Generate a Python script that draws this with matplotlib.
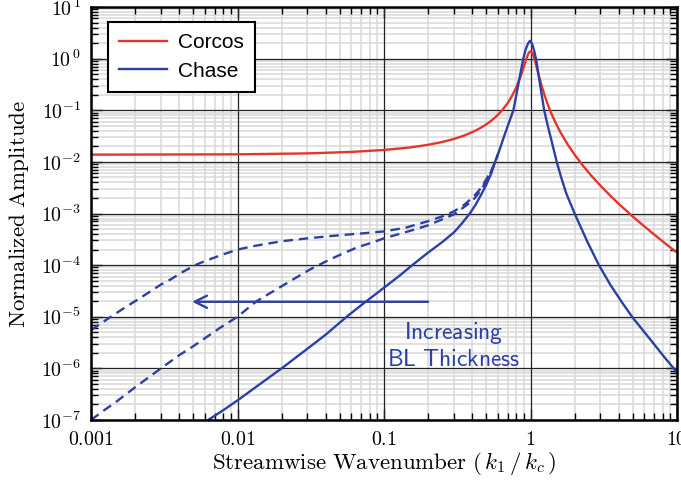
import numpy as np
import matplotlib
matplotlib.use("Agg")
import matplotlib.pyplot as plt
from matplotlib.ticker import FixedLocator, LogLocator, NullFormatter

plt.rcParams["mathtext.fontset"] = "cm"
plt.rcParams["font.family"] = ["Liberation Sans", "DejaVu Sans"]

# Corcos model spectrum
k_corcos = [0.001, 0.01, 0.03, 0.06, 0.1, 0.15, 0.2, 0.25, 0.3, 0.35, 0.4,
            0.45, 0.5, 0.55, 0.6, 0.65, 0.7, 0.75, 0.8, 0.85, 0.875, 0.9,
            0.925, 0.95, 0.975, 1.0, 1.025, 1.05, 1.075, 1.1, 1.125, 1.15,
            1.2, 1.25, 1.3, 1.35, 1.4, 1.5, 1.6, 1.8, 2.0, 2.3, 2.6, 3.0,
            3.5, 4.0, 5.0, 6.0, 7.0, 8.5, 10.0]
amp_corcos = [0.0138, 0.0140, 0.0146, 0.0156, 0.0170, 0.0190, 0.0214, 0.0243,
              0.0278, 0.0321, 0.0376, 0.0445, 0.0535, 0.0654, 0.0818, 0.105,
              0.139, 0.192, 0.278, 0.428, 0.542, 0.695, 0.890, 1.11, 1.31,
              1.39, 1.31, 1.11, 0.890, 0.695, 0.542, 0.428, 0.278, 0.192,
              0.139, 0.105, 0.0818, 0.0535, 0.0376, 0.0214, 0.0138, 8.2e-3,
              5.4e-3, 3.47e-3, 2.22e-3, 1.54e-3, 8.7e-4, 5.6e-4, 3.9e-4,
              2.5e-4, 1.75e-4]

# Chase model, thinnest boundary layer (solid)
k_chase = [0.005, 0.0063, 0.008, 0.01, 0.014, 0.02, 0.03, 0.04, 0.0556, 0.07,
           0.09, 0.11, 0.13, 0.156, 0.2, 0.25, 0.3, 0.34, 0.385, 0.42, 0.46,
           0.5, 0.54, 0.573, 0.61, 0.65, 0.7, 0.764, 0.8, 0.85, 0.893, 0.93,
           0.965, 0.99, 1.0, 1.03, 1.06, 1.09, 1.15, 1.24, 1.31, 1.4, 1.51,
           1.62, 1.75, 2.0, 2.45, 2.93, 3.5, 4.2, 5.0, 6.0, 7.0, 8.2, 9.5, 10.0]
amp_chase = [6.2e-8, 1.0e-7, 1.55e-7, 2.4e-7, 4.8e-7, 1.0e-6, 2.4e-6, 4.5e-6,
             1.0e-5, 1.68e-5, 2.9e-5, 4.5e-5, 6.5e-5, 1.0e-4, 1.75e-4, 2.8e-4,
             4.3e-4, 6.4e-4, 1.0e-3, 1.45e-3, 2.3e-3, 3.65e-3, 6.0e-3, 1.0e-2,
             1.6e-2, 2.75e-2, 5.0e-2, 0.1, 0.197, 0.49, 1.0, 1.55, 2.0, 2.2,
             2.2, 1.87, 1.4, 1.0, 0.38, 0.1, 0.051, 0.024, 0.01, 5.0e-3,
             2.5e-3, 1.0e-3, 2.8e-4, 1.0e-4, 4.2e-5, 1.92e-5, 9.5e-6, 5.0e-6,
             2.9e-6, 1.65e-6, 1.0e-6, 8.3e-7]

# Chase model, thicker boundary layers (dashed)
k_dash1 = [0.001, 0.0012, 0.0014, 0.0017, 0.002, 0.0025, 0.003, 0.0035,
           0.0042, 0.00514, 0.006, 0.008, 0.01, 0.013, 0.02, 0.03, 0.05, 0.07,
           0.1, 0.14, 0.2, 0.25, 0.3, 0.35, 0.4, 0.45, 0.5, 0.55, 0.6]
amp_dash1 = [5.5e-6, 7.8e-6, 1.05e-5, 1.5e-5, 2.0e-5, 3.0e-5, 4.2e-5, 5.3e-5,
             7.3e-5, 1.0e-4, 1.2e-4, 1.62e-4, 2.0e-4, 2.35e-4, 2.9e-4, 3.3e-4,
             3.8e-4, 4.1e-4, 4.5e-4, 5.3e-4, 7.1e-4, 8.8e-4, 1.1e-3, 1.45e-3,
             2.0e-3, 2.9e-3, 4.6e-3, 7.6e-3, 1.4e-2]

k_dash2 = [0.001, 0.0012, 0.0015, 0.002, 0.003, 0.004, 0.005, 0.0076, 0.01,
           0.0135, 0.0229, 0.0314, 0.043, 0.053, 0.0655, 0.08, 0.1, 0.15, 0.2,
           0.3, 0.4, 0.45, 0.5, 0.55, 0.6]
amp_dash2 = [1.0e-7, 1.47e-7, 2.3e-7, 4.3e-7, 1.0e-6, 1.8e-6, 2.7e-6, 6.1e-6,
             1.0e-5, 2.0e-5, 4.9e-5, 8.3e-5, 1.3e-4, 1.7e-4, 2.2e-4, 2.65e-4,
             3.3e-4, 4.6e-4, 5.9e-4, 9.6e-4, 1.74e-3, 2.6e-3, 4.3e-3, 7.3e-3,
             1.4e-2]

x_ticks = [0.001, 0.01, 0.1, 1, 10]
x_labels = ["0.001", "0.01", "0.1", "1", "10"]
y_exponents = [-7, -6, -5, -4, -3, -2, -1, 0, 1]

red = "#E5352B"
blue = "#2E3FA3"

fig = plt.figure(figsize=(6.81, 4.80), dpi=100)
ax = fig.add_axes([91 / 681, 60 / 480, 586 / 681, 413 / 480])
ax.set_xscale("log")
ax.set_yscale("log")
ax.set_xlim(1e-3, 10)
ax.set_ylim(1e-7, 10)
ax.set_axisbelow(True)  # ticks at zorder 0.5

# grid: light minor lines under the ticks, dark major lines on top
subs = range(2, 10)
for xv in x_ticks[:-1]:
    for m in subs:
        ax.axvline(xv * m, color="#d9d9d9", lw=1.1, zorder=0.2)
for e in y_exponents[:-1]:
    for m in subs:
        ax.axhline(m * 10.0 ** e, color="#d9d9d9", lw=1.1, zorder=0.2)
for xv in x_ticks:
    ax.axvline(xv, color="#222222", lw=0.9, zorder=1)
for e in y_exponents:
    ax.axhline(10.0 ** e, color="#222222", lw=0.9, zorder=1)

ax.plot(k_dash1, amp_dash1, color=blue, lw=1.7, dashes=(4, 2.5), zorder=3)
ax.plot(k_dash2, amp_dash2, color=blue, lw=1.7, dashes=(4, 2.5), zorder=3)
ax.plot(k_corcos, amp_corcos, color=red, lw=1.7, label="Corcos", zorder=4)
ax.plot(k_chase, amp_chase, color=blue, lw=1.7, label="Chase", zorder=5)

# arrow + annotation
ax.annotate("", xy=(0.0049, 1.95e-5), xytext=(0.2, 1.95e-5),
            arrowprops=dict(arrowstyle="->", color=blue, lw=1.7,
                            mutation_scale=22, shrinkA=0, shrinkB=0))
ax.text(0.30, 2.8e-6, r"$\mathsf{Increasing}$" + "\n" + r"$\mathsf{BL\ Thickness}$",
        color=blue, fontsize=17, ha="center", va="center", linespacing=1.2)

# ticks
ax.xaxis.set_major_locator(FixedLocator(x_ticks))
ax.set_xticklabels(["$%s$" % s for s in x_labels])
ax.xaxis.set_minor_locator(LogLocator(base=10, subs=np.arange(2, 10), numticks=20))
ax.xaxis.set_minor_formatter(NullFormatter())
ax.yaxis.set_major_locator(FixedLocator([10.0 ** e for e in y_exponents]))
ax.set_yticklabels([r"$10^{\,%d}$" % e if e >= 0 else r"$10^{%d}$" % e for e in y_exponents])
ax.yaxis.set_minor_locator(LogLocator(base=10, subs=np.arange(2, 10), numticks=20))
ax.yaxis.set_minor_formatter(NullFormatter())

ax.tick_params(which="both", direction="in", top=True, right=True, labelsize=14.3)
ax.tick_params(which="major", length=8, width=1.0, pad=7)
ax.tick_params(which="minor", length=5, width=1.0)

for sp in ax.spines.values():
    sp.set_linewidth(1.8)
    sp.set_zorder(6)

ax.set_xlabel(r"$\mathrm{Streamwise\ Wavenumber}\ (\,k_1\,/\,k_c\,)$", fontsize=16.5, labelpad=1)
ax.set_ylabel(r"$\mathrm{Normalized\ Amplitude}$", fontsize=16.5, labelpad=7)

leg = ax.legend(loc="upper left", bbox_to_anchor=(0.029, 0.964), borderaxespad=0,
                fontsize=15, fancybox=False, framealpha=1, edgecolor="black",
                handlelength=2.3, handletextpad=0.5, labelspacing=0.45, borderpad=0.55)
leg.get_frame().set_linewidth(1.5)
leg.set_zorder(7)

fig.savefig("out.png", dpi=100)
